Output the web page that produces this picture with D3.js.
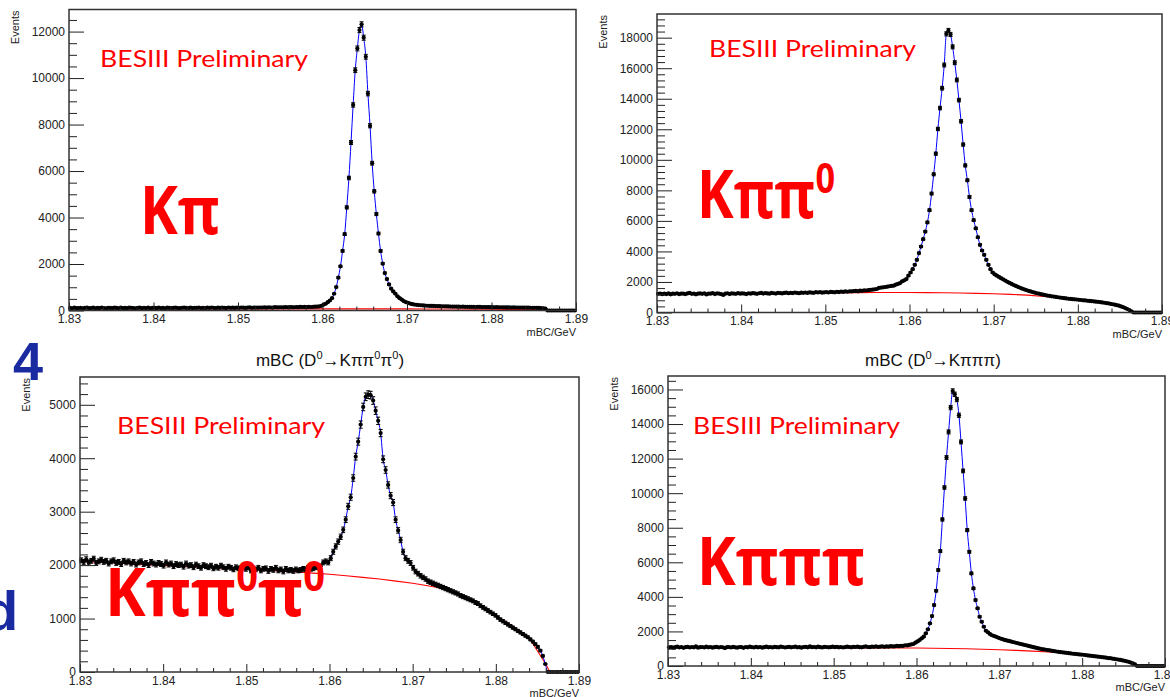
<!DOCTYPE html>
<html><head><meta charset="utf-8">
<script src="https://cdn.jsdelivr.net/npm/d3@7"></script>
<style>body{margin:0;background:#fff}svg{display:block}</style>
</head><body>
<svg id="c" width="1170" height="697"></svg>
<script>
// ---------- data ----------
const xDomain = [1.83, 1.89];
const xTicks = [1.83, 1.84, 1.85, 1.86, 1.87, 1.88, 1.89];
const xTickLabels = ["1.83", "1.84", "1.85", "1.86", "1.87", "1.88", "1.89"];
const xMinorTicks = [1.832,1.834,1.836,1.838,1.842,1.844,1.846,1.848,1.852,1.854,1.856,1.858,1.862,1.864,1.866,1.868,1.872,1.874,1.876,1.878,1.882,1.884,1.886,1.888];
const bkgX = [1.830,1.832,1.834,1.836,1.838,1.840,1.842,1.844,1.846,1.848,1.850,1.852,1.854,1.856,1.858,1.860,1.862,1.864,1.866,1.868,1.870,1.872,1.874,1.876,1.878,1.880,1.882,1.884,1.886,1.8865,1.890];

// D0 -> K pi  (240 bins)
const kpiCounts = [
110,95,120,105,100,115,90,110,125,100,
105,120,95,110,100,130,105,95,115,110,
100,120,110,95,125,105,110,100,120,115,
105,95,110,125,100,115,105,120,95,110,
115,100,125,105,110,95,120,110,105,115,
120,105,100,115,125,110,100,120,105,115,
110,125,105,115,100,120,110,130,115,105,
120,110,125,115,105,130,115,120,110,125,
115,130,120,110,125,135,115,125,130,120,
130,125,135,120,140,130,125,145,135,140,
140,135,145,140,150,145,140,150,145,155,
150,155,150,160,150,155,165,170,180,200,
250,290,360,430,531,720,1007,1413,1901,2562,
3283,4436,5702,7227,8843,10338,11275,12066,12312,11737,
10917,9331,7949,6337,5128,4147,3313,2562,2017,1611,
1352,1123,937,820,721,610,530,470,400,360,
332,300,270,255,245,235,225,220,210,205,
200,198,195,190,190,185,180,182,178,175,
172,170,168,170,165,162,165,160,158,160,
155,158,150,155,152,148,150,145,148,142,
145,140,142,138,140,135,138,132,135,130,
132,128,130,125,128,122,125,120,118,115,
118,112,110,105,95,80,0,0,0,0,
0,0,0,0,0,0,0,0,0,0];
const kpiBkg = [70,70,70,70,70,70,70,70,70,70,70,70,70,70,70,70,70,70,70,70,68,66,64,62,60,56,50,42,25,0,0];
const kpiYTicks = [0,2000,4000,6000,8000,10000,12000];

// D0 -> K pi pi0 (240 bins)
const kpp0Counts = [
1220,1240,1200,1230,1210,1250,1190,1230,1220,1260,
1200,1240,1230,1210,1250,1280,1220,1240,1190,1230,
1250,1220,1260,1180,1240,1230,1270,1210,1250,1240,
1200,1150,1230,1260,1210,1250,1240,1220,1270,1230,
1250,1240,1210,1260,1230,1270,1250,1220,1260,1280,
1240,1270,1250,1230,1280,1260,1240,1290,1270,1250,
1280,1300,1260,1290,1270,1310,1280,1260,1300,1290,
1310,1280,1320,1300,1290,1330,1310,1340,1300,1320,
1330,1310,1350,1340,1320,1360,1340,1370,1350,1380,
1360,1390,1380,1400,1410,1390,1430,1420,1450,1440,
1470,1480,1500,1520,1540,1610,1630,1650,1670,1690,
1720,1740,1760,1820,1870,1930,2040,2110,2190,2410,
2620,2840,3120,3450,3890,4320,4800,5300,5900,6700,
7790,9050,10400,12020,13390,14690,16210,18250,18470,18210,
17400,16360,15230,13910,12520,11000,9630,8660,7570,6700,
6050,5510,4930,4430,4060,3780,3450,3120,2840,2620,
2500,2410,2330,2250,2170,2090,2010,1940,1870,1800,
1740,1680,1620,1570,1520,1470,1420,1380,1340,1300,
1260,1230,1200,1170,1140,1110,1090,1060,1040,1020,
1000,980,960,940,920,900,890,870,860,850,
830,820,800,790,770,760,740,730,710,700,
680,660,640,620,600,570,540,510,480,450,
400,350,290,230,160,80,0,0,0,0,
0,0,0,0,0,0,0,0,0,0];
const kpp0Bkg = [1220,1225,1230,1238,1245,1252,1260,1268,1275,1282,1290,1296,1302,1306,1308,1306,1300,1290,1275,1255,1225,1185,1135,1050,960,850,730,560,250,0,0];
const kpp0YTicks = [0,2000,4000,6000,8000,10000,12000,14000,16000,18000];

// D0 -> K pi pi0 pi0 (200 bins)
const kpp0p0Counts = [
2090,2060,2110,2050,2080,2120,2040,2070,2100,2060,
2080,2030,2070,2090,2040,2060,2020,2080,2050,2070,
2030,2060,2010,2050,2070,2020,2040,2000,2060,2030,
2010,2040,2020,1990,2050,2010,2030,1980,2020,2000,
2010,1970,2030,1990,2000,1960,2010,1980,1950,2000,
1980,1960,1990,1940,1970,1950,1990,1960,1930,1970,
1950,1920,1960,1940,1910,1950,1930,1960,1900,1940,
1920,1950,1900,1930,1940,1890,1930,1910,1950,1900,
1920,1880,1930,1900,1910,1890,1920,1900,1910,1930,
1920,1950,1930,1940,1960,1970,1980,2050,2070,2050,
2130,2250,2350,2440,2530,2660,2850,3100,3270,3630,
4030,4310,4630,4960,5150,5190,5180,5080,4890,4700,
4470,3980,3780,3500,3300,3170,2850,2650,2470,2250,
2130,2080,2040,1950,1880,1840,1800,1770,1740,1700,
1680,1660,1640,1620,1600,1580,1560,1540,1520,1500,
1480,1460,1430,1410,1390,1370,1350,1330,1300,1280,
1240,1210,1180,1150,1120,1090,1060,1020,980,950,
920,890,860,830,800,770,740,710,680,650,
610,570,520,470,400,300,150,0,0,0,
0,0,0,0,0,0,0,0,0,0];
const kpp0p0Bkg = [2070,2055,2040,2025,2010,1995,1980,1965,1950,1935,1920,1905,1890,1870,1850,1830,1800,1770,1740,1700,1660,1610,1550,1420,1260,1060,860,640,150,0,0];
const kpp0p0YTicks = [0,1000,2000,3000,4000,5000];

// D0 -> K pi pi pi (240 bins)
const kpppCounts = [
1080,1100,1060,1090,1120,1070,1100,1050,1090,1110,
1070,1100,1080,1130,1060,1090,1100,1070,1120,1080,
1100,1060,1090,1110,1070,1100,1080,1040,1090,1100,
1070,1110,1080,1060,1100,1090,1050,1100,1080,1120,
1090,1070,1110,1080,1100,1060,1090,1120,1080,1100,
1070,1110,1090,1080,1120,1100,1070,1090,1110,1080,
1100,1120,1080,1090,1060,1100,1110,1080,1130,1090,
1100,1080,1120,1090,1070,1110,1100,1080,1090,1120,
1090,1110,1080,1100,1070,1090,1120,1100,1080,1110,
1100,1120,1090,1080,1110,1130,1100,1090,1120,1110,
1130,1100,1120,1140,1110,1130,1120,1150,1130,1140,
1160,1150,1170,1160,1200,1190,1220,1250,1272,1347,
1420,1503,1600,1694,1890,2121,2468,2890,3526,4352,
5549,6647,8479,10329,12063,13543,14953,15913,15722,15415,
14508,12965,11288,9693,7861,6607,5358,4491,3815,3335,
2850,2561,2272,2040,1950,1850,1780,1734,1690,1636,
1590,1550,1510,1480,1450,1420,1390,1360,1330,1300,
1270,1240,1210,1180,1150,1120,1090,1060,1030,1000,
980,960,940,920,900,880,860,840,820,800,
790,770,760,740,730,710,700,690,670,660,
650,630,620,600,590,570,560,540,530,510,
500,480,460,450,430,410,390,370,350,320,
300,270,240,200,150,90,0,0,0,0,
0,0,0,0,0,0,0,0,0,0];
const kpppBkg = [1070,1068,1066,1064,1062,1060,1058,1056,1054,1052,1050,1048,1046,1044,1042,1040,1030,1015,995,970,940,905,860,810,750,660,550,400,170,0,0];
const kpppYTicks = [0,2000,4000,6000,8000,10000,12000,14000,16000];

// ---------- layout ----------
const panels = [
  {counts:kpiCounts, bkg:kpiBkg, yTicks:kpiYTicks, yMinor:500, x0:69, x1:576, yTop:9.5, yBot:310.5, ymax:12950,
   besX:100, besY:66.5, besW:208},
  {counts:kpp0Counts, bkg:kpp0Bkg, yTicks:kpp0YTicks, yMinor:400, x0:657, x1:1162, yTop:14, yBot:312.5, ymax:19550,
   besX:709, besY:56.5, besW:207, title:["mBC (D","0","\u2192K\u03c0\u03c0","0",")"], titleX:927, titleY:-3},
  {counts:kpp0p0Counts, bkg:kpp0p0Bkg, yTicks:kpp0p0YTicks, yMinor:200, x0:80, x1:579, yTop:377, yBot:672, ymax:5520,
   besX:117, besY:434.3, besW:208, title:["mBC (D","0","\u2192K\u03c0\u03c0","0","\u03c0","0",")"], titleX:330, titleY:366},
  {counts:kpppCounts, bkg:kpppBkg, yTicks:kpppYTicks, yMinor:500, x0:668, x1:1165, yTop:376, yBot:666, ymax:16780,
   besX:693, besY:434.3, besW:207, title:["mBC (D","0","\u2192K\u03c0\u03c0\u03c0",")"], titleX:933, titleY:366}
];
const bigLabels = [
  {parts:["K\u03c0"], x:140, y:234, w:80, size:66},
  {parts:["K\u03c0\u03c0","0"], x:697, y:218, w:138, size:66},
  {parts:["K\u03c0\u03c0","0","\u03c0","0"], x:105, y:616, w:220, size:66},
  {parts:["K\u03c0\u03c0\u03c0"], x:697, y:585, w:168, size:66}
];

const svg = d3.select("#c");
const AX = "'Liberation Sans', Arial, sans-serif";

function addParts(t, parts, size, supScale, rise) {
  let shifted = false;
  parts.forEach(s => {
    const sup = s === "0";
    let dy = 0;
    if (sup && !shifted) { dy = -rise; shifted = true; }
    else if (!sup && shifted) { dy = rise; shifted = false; }
    t.append("tspan").attr("font-size", sup ? size * supScale : size).attr("dy", dy).text(s);
  });
}

panels.forEach(p => {
  const x = d3.scaleLinear().domain(xDomain).range([p.x0, p.x1]);
  const y = d3.scaleLinear().domain([0, p.ymax]).range([p.yBot, p.yTop]);
  const g = svg.append("g");
  const n = p.counts.length, bw = (xDomain[1] - xDomain[0]) / n;
  const pts = p.counts.map((v, i) => ({x: xDomain[0] + (i + 0.5) * bw, v}));

  // background (red)
  g.append("path").datum(bkgX.map((xv, i) => [xv, p.bkg[i]]))
    .attr("d", d3.line().x(d => x(d[0])).y(d => y(d[1])))
    .attr("fill", "none").attr("stroke", "#ff0000").attr("stroke-width", 1.1);
  // fit (blue)
  g.append("path").datum(pts)
    .attr("d", d3.line().curve(d3.curveMonotoneX).x(d => x(d.x)).y(d => y(d.v)))
    .attr("fill", "none").attr("stroke", "#0000ff").attr("stroke-width", 1);

  // data points with error bars
  const m = g.append("g").selectAll("g").data(pts).join("g")
    .attr("transform", d => `translate(${x(d.x)},${y(d.v)})`);
  m.append("path").attr("d", d => {
      const e = Math.sqrt(d.v);
      const up = y(d.v + e) - y(d.v), dn = y(Math.max(d.v - e, 0)) - y(d.v);
      return `M0,${up}V${dn}M-2,${up}H2M-2,${dn}H2`;
    }).attr("stroke", "#000").attr("stroke-width", 1).attr("fill", "none");
  m.append("circle").attr("r", 2.1).attr("fill", "#000");

  // axes
  g.append("g").attr("transform", `translate(${p.x0},0)`)
    .call(d3.axisLeft(y).tickValues(p.yTicks).tickSize(-15).tickPadding(4).tickFormat(d3.format("d")));
  const yMinorVals = d3.range(0, p.ymax, p.yMinor).filter(v => !p.yTicks.includes(v));
  g.append("g").attr("transform", `translate(${p.x0},0)`)
    .call(d3.axisLeft(y).tickValues(yMinorVals).tickSize(-8).tickFormat(() => ""));
  g.append("g").attr("transform", `translate(0,${p.yBot})`)
    .call(d3.axisBottom(x).tickValues(xTicks).tickSize(-8).tickPadding(4).tickFormat((d, i) => xTickLabels[i]));
  g.append("g").attr("transform", `translate(0,${p.yBot})`)
    .call(d3.axisBottom(x).tickValues(xMinorTicks).tickSize(-4).tickFormat(() => ""));
  g.selectAll(".domain").remove();
  g.selectAll(".tick line").attr("stroke", "#222");
  g.selectAll(".tick text").attr("font-family", AX).attr("font-size", 12).attr("fill", "#222");

  // frame
  g.append("rect").attr("x", p.x0).attr("y", p.yTop).attr("width", p.x1 - p.x0).attr("height", p.yBot - p.yTop)
    .attr("fill", "none").attr("stroke", "#333").attr("stroke-width", 1.5);

  // axis titles
  g.append("text").attr("transform", `translate(${p.x0 - 50},${p.yTop + 1}) rotate(-90)`)
    .attr("text-anchor", "end").attr("font-family", AX).attr("font-size", 11).attr("fill", "#222").text("Events");
  g.append("text").attr("x", p.x1).attr("y", p.yBot + 25).attr("text-anchor", "end")
    .attr("font-family", AX).attr("font-size", 11).attr("fill", "#222").text("mBC/GeV");

  // plot title
  if (p.title) {
    const t = g.append("text").attr("x", p.titleX).attr("y", p.titleY).attr("text-anchor", "middle")
      .attr("font-family", AX).attr("fill", "#111");
    addParts(t, p.title, 17, 0.65, 7);
  }

  // BESIII Preliminary
  g.append("text").attr("x", p.besX).attr("y", p.besY).attr("font-family", "Lato, 'Open Sans', sans-serif")
    .attr("font-size", 24).attr("fill", "#ff0000")
    .attr("textLength", p.besW).attr("lengthAdjust", "spacingAndGlyphs").text("BESIII Preliminary");
});

// big channel labels
bigLabels.forEach(b => {
  const t = svg.append("text").attr("x", b.x).attr("y", b.y).attr("font-family", "'Open Sans', 'Noto Sans', sans-serif")
    .attr("font-weight", 700).attr("font-size", b.size).attr("fill", "#ff0000")
    .attr("textLength", b.w).attr("lengthAdjust", "spacingAndGlyphs");
  addParts(t, b.parts, b.size, 0.62, b.size * 0.38);
});

// slide fragments
svg.append("text").attr("x", 13).attr("y", 380).attr("font-family", AX).attr("font-weight", 700)
  .attr("font-size", 54).attr("fill", "#1a2aa0").text("4");
svg.append("text").attr("x", -16).attr("y", 630).attr("font-family", AX).attr("font-weight", 700)
  .attr("font-size", 56).attr("fill", "#1a2aa0").text("d");
</script>
</body></html>
